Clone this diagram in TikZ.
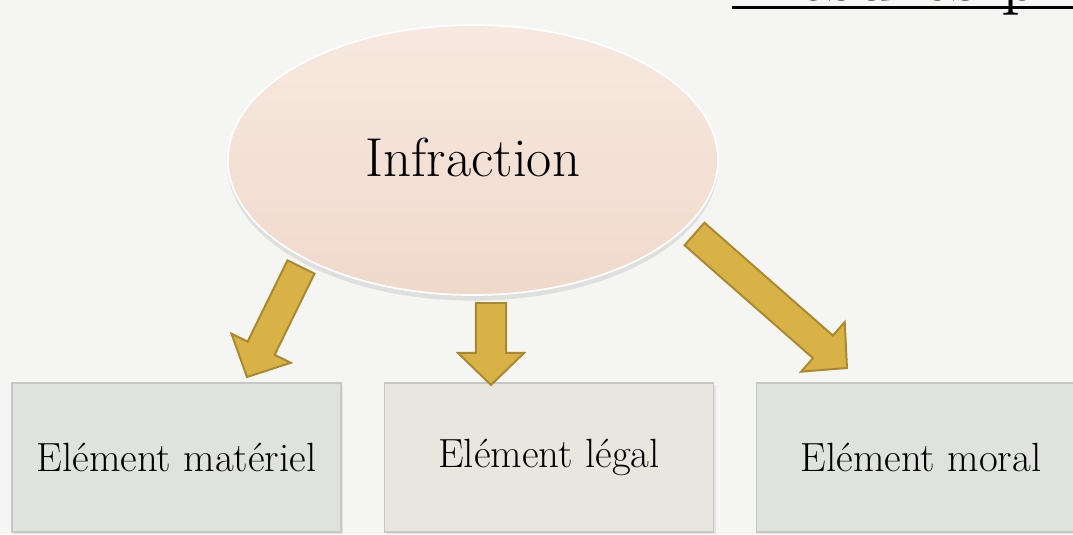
\documentclass[tikz,border=0pt]{standalone}
\usepackage{amsmath,amssymb}
\usetikzlibrary{arrows.meta,calc,positioning,shapes.geometric,shadows}

\definecolor{bgpaper}{HTML}{F5F5F4}
\definecolor{peachtop}{HTML}{F7E9E0}
\definecolor{peachbot}{HTML}{F0D9CB}
\definecolor{boxgreen}{HTML}{E0E2DD}
\definecolor{boxwarm}{HTML}{E9E6E0}
\definecolor{goldfill}{HTML}{D8B246}
\definecolor{goldline}{HTML}{A8892E}

\begin{document}
\begin{tikzpicture}[x=0.025cm,y=-0.025cm]
\tikzset{
  mainnode/.style={ellipse,minimum width=12.25cm,minimum height=6.75cm,inner sep=0pt,
    top color=peachtop,bottom color=peachbot,draw=white,line width=1.2pt,
    drop shadow={opacity=0.18,shadow xshift=0pt,shadow yshift=-4pt},
    font=\fontsize{39}{44}\selectfont},
  elembox/.style={rectangle,minimum width=8.225cm,minimum height=3.725cm,inner sep=0pt,
    draw=black!22,line width=0.8pt,
    drop shadow={opacity=0.15,shadow xshift=1.5pt,shadow yshift=-1.5pt},
    font=\fontsize{29}{33}\selectfont},
  goldarrow/.style={fill=goldfill,draw=goldline,line width=1.4pt,line join=miter,
    to path={
      ($(\tikztostart)!10.7pt!90:(\tikztotarget)$)
      -- ($(\tikztotarget)!22.8pt!(\tikztostart)!10.7pt!-90:(\tikztostart)$)
      -- ($(\tikztotarget)!22.8pt!(\tikztostart)!23.5pt!-90:(\tikztostart)$)
      -- (\tikztotarget)
      -- ($(\tikztotarget)!22.8pt!(\tikztostart)!23.5pt!90:(\tikztostart)$)
      -- ($(\tikztotarget)!22.8pt!(\tikztostart)!10.7pt!90:(\tikztostart)$)
      -- ($(\tikztostart)!10.7pt!-90:(\tikztotarget)$)
      -- cycle}}
}
\useasboundingbox (0,0) rectangle (1073,534);
\clip (0,0) rectangle (1073,534);
\fill[bgpaper] (0,0) rectangle (1073,534);

% title, cut at the top edge
\node[anchor=base west,inner sep=0pt,font=\fontsize{54}{60}\selectfont] (title) at (732,0) {Mesures p};
\draw[line width=2.2pt] (732,7.5) -- (1080,7.5);

\node[mainnode] (infr) at (473,160) {\raisebox{4pt}{Infraction}};
\node[elembox,fill=boxgreen] (mat) at (176.5,457.5) {Elément matériel};
\node[elembox,fill=boxwarm] (leg) at (549,457.5) {Elément légal};
\node[elembox,fill=boxgreen] (mor) at (921,457.5) {Elément moral};

\coordinate (a_mat) at (301,267);
\coordinate (b_mat) at (247,377);
\coordinate (a_leg) at (491,303);
\coordinate (b_leg) at (491,385);
\coordinate (a_mor) at (694.5,234);
\coordinate (b_mor) at (847,368);
\draw[goldarrow] (a_mat) to (b_mat);
\draw[goldarrow] (a_leg) to (b_leg);
\draw[goldarrow] (a_mor) to (b_mor);
\end{tikzpicture}
\end{document}
